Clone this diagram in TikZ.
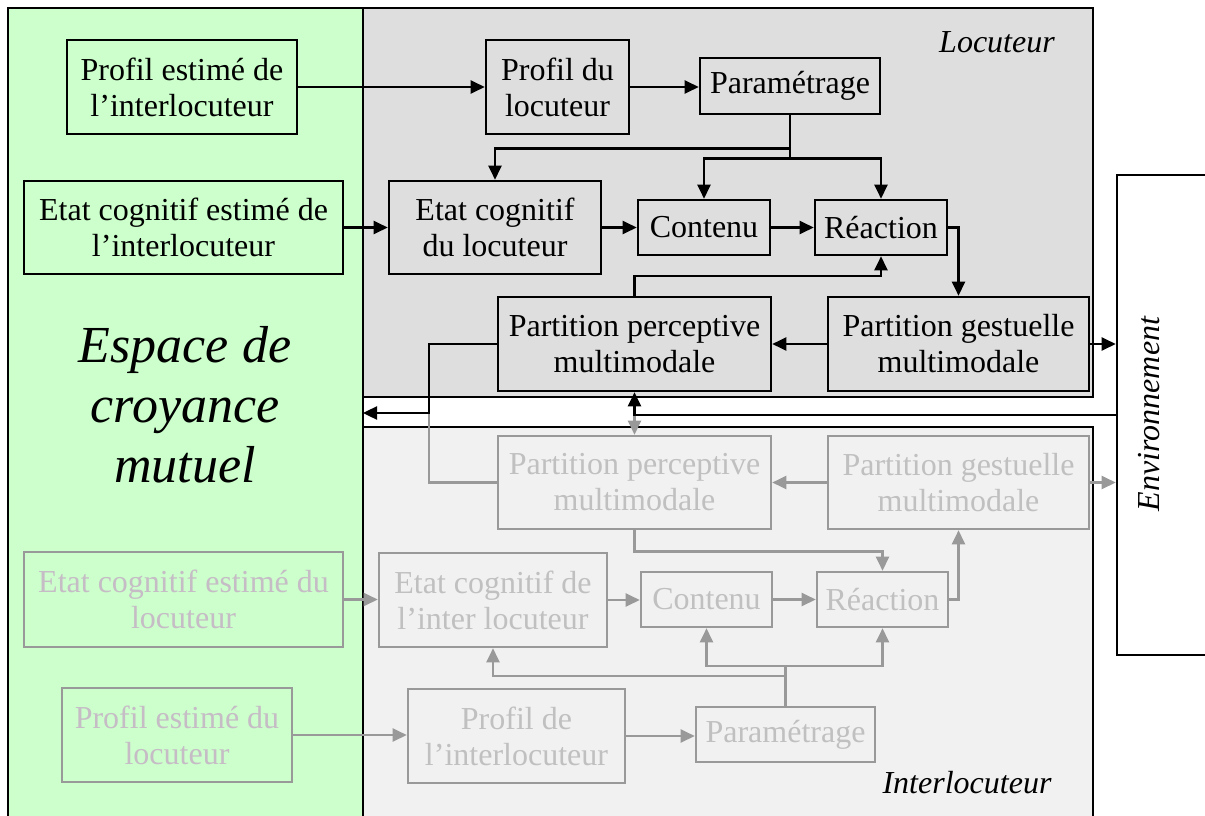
\documentclass[tikz,border=0pt]{standalone}
\usepackage{fontspec}
\setmainfont{Liberation Serif}
\usetikzlibrary{arrows.meta}

\definecolor{mutualgreen}{RGB}{204,255,204}
\definecolor{locgray}{RGB}{222,222,222}
\definecolor{intgray}{RGB}{241,241,241}
\definecolor{ghostline}{RGB}{153,153,153}
\definecolor{ghosttext}{RGB}{192,192,192}
\definecolor{ghostgreentext}{RGB}{198,188,198}

\tikzset{
  blk/.style={draw, line width=2.6pt, inner sep=0pt, align=center, font=\fontsize{32}{36}\selectfont},
  ghost/.style={blk, draw=ghostline, text=ghosttext},
  ghostg/.style={ghost, text=ghostgreentext},
  arr/.style={line width=2.4pt, -{Triangle[length=14pt,width=13pt]}},
  garr/.style={arr, draw=ghostline},
  gline/.style={line width=2.4pt, draw=ghostline},
  tag/.style={font=\fontsize{32}{36}\selectfont\itshape}
}

\begin{document}
\begin{tikzpicture}[x=1pt,y=1pt,yscale=-1,xscale=1,line width=2.4pt]
\useasboundingbox (0,0) rectangle (1205,816);
\clip (0,0) rectangle (1205,816);

%Shape: Rectangle [espace mutuel]
\draw [fill=mutualgreen, line width=2.8pt] (8,8) rectangle (363,830);
%Shape: Rectangle [locuteur]
\draw [fill=locgray, line width=2.8pt] (363,8) rectangle (1093,397);
%Shape: Rectangle [interlocuteur]
\draw [fill=intgray, line width=2.8pt] (363,427) rectangle (1093,830);
%Shape: Rectangle [environnement]
\node (env) [draw, line width=2.6pt, minimum width=100pt, minimum height=480pt, inner sep=0pt] at (1167,415) {};

% Text Node
\node (mutuel) at (185,405) [align=center, font=\fontsize{52}{60}\selectfont\itshape] {Espace de\\croyance\\mutuel};
% Text Node
\node (loc) at (997,42) [tag] {Locuteur};
% Text Node
\node (inter) at (967,783) [tag] {Interlocuteur};
% Text Node
\node (envlabel) at (1149,414) [tag, rotate=90] {Environnement};

%Locuteur boxes
\node (pei) at (182,87) [blk, minimum width=230pt, minimum height=94pt] {Profil estimé de\\l’interlocuteur};
\node (eci) at (183.5,227.5) [blk, minimum width=319pt, minimum height=93pt] {Etat cognitif estimé de\\l’interlocuteur};
\node (pl) at (557.5,87) [blk, minimum width=143pt, minimum height=94pt] {Profil du\\locuteur};
\node (par) at (790,86) [blk, minimum width=180pt, minimum height=56pt] {Paramétrage};
\node (ecl) at (495,227.5) [blk, minimum width=212pt, minimum height=93pt] {Etat cognitif\\du locuteur};
\node (con) at (704,227.5) [blk, minimum width=132pt, minimum height=55pt] {Contenu};
\node (rea) at (881,227.5) [blk, minimum width=132pt, minimum height=55pt] {Réaction};
\node (ppl) at (634.5,344) [blk, minimum width=273pt, minimum height=94pt] {Partition perceptive\\multimodale};
\node (pgl) at (958.5,344) [blk, minimum width=261pt, minimum height=94pt] {Partition gestuelle\\multimodale};

%Interlocuteur boxes
\node (ppi) at (634.5,482.5) [ghost, minimum width=273pt, minimum height=93pt] {Partition perceptive\\multimodale};
\node (pgi) at (958.5,482.5) [ghost, minimum width=261pt, minimum height=93pt] {Partition gestuelle\\multimodale};
\node (ecel) at (183.5,599.5) [ghostg, minimum width=319pt, minimum height=95pt] {Etat cognitif estimé du\\locuteur};
\node (eii) at (493,600) [ghost, minimum width=228pt, minimum height=94pt] {Etat cognitif de\\l’inter locuteur};
\node (coni) at (706.5,599.5) [ghost, minimum width=131pt, minimum height=55pt] {Contenu};
\node (reai) at (882.5,599.5) [ghost, minimum width=131pt, minimum height=55pt] {Réaction};
\node (pel) at (177,735) [ghostg, minimum width=230pt, minimum height=94pt] {Profil estimé du\\locuteur};
\node (pi) at (516.5,736) [ghost, minimum width=217pt, minimum height=94pt] {Profil de\\l’interlocuteur};
\node (pari) at (785.5,734.5) [ghost, minimum width=179pt, minimum height=55pt] {Paramétrage};

\coordinate (mutin) at (363,413);

%Gray connectors
\draw [gline] (ppi.west) -- ++(-68,0) -- ++(0,-69);
\draw [garr] (env.west -| ppi.north) -- (ppi.north);
\draw [garr] (pgi.west) -- (ppi.east);
\draw [garr] (pgi.east) -- (pgi.east -| env.west);
\draw [garr] (ppi.south) -- ++(0,21) -| (reai.north);
\draw [garr] (reai.east) -| (pgi.south);
\draw [garr] (ecel.east) -- (ecel.east -| eii.west);
\draw [garr] (eii.east) -- (eii.east -| coni.west);
\draw [garr] (coni.east) -- (reai.west);
\draw [garr] (pel.east) -- (pel.east -| pi.west);
\draw [garr] (pi.east) -- (pi.east -| pari.west);
\draw [garr] (pari.north) -- ++(0,-40) -| (coni.south);
\draw [garr] (pari.north) ++(0,-40) -| (reai.south);
\draw [garr] (pari.north) -- ++(0,-30) -| (eii.south);

%Black connectors
\draw [arr] (pei.east) -- (pl.west);
\draw [arr] (pl.east) -- (pl.east -| par.west);
\draw [arr] (par.south) -- ++(0,33) -| (ecl.north);
\draw [arr] (par.south) -- ++(0,43) -| (con.north);
\draw [arr] (par.south) ++(0,43) -| (rea.north);
\draw [arr] (eci.east) -- (ecl.west);
\draw [arr] (ecl.east) -- (con.west);
\draw [arr] (con.east) -- (rea.west);
\draw [arr] (rea.east) -| (pgl.north);
\draw [arr] (pgl.west) -- (ppl.east);
\draw [arr] (ppl.north) -- ++(0,-20) -| (rea.south);
\draw [arr] (pgl.east) -- (pgl.east -| env.west);
\draw [arr] (env.west) -| (ppl.south);
\draw [arr] (ppl.west) -- ++(-68,0) |- (mutin);

\end{tikzpicture}
\end{document}
